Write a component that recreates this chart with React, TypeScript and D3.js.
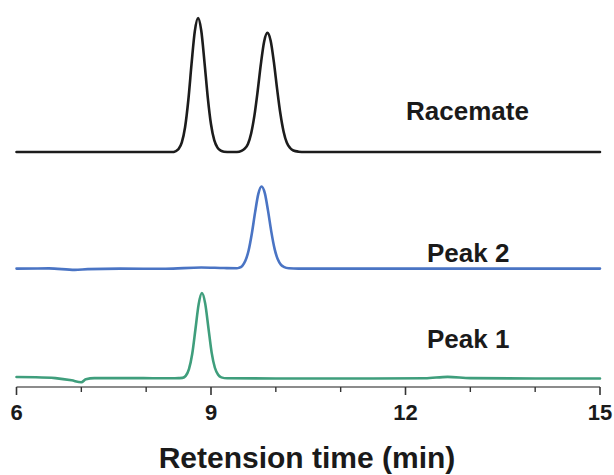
import React from "react";
import * as d3 from "d3";

// Retention time ticks (min)
const majorTicks = [6, 9, 12, 15];
const minorTicks = [7, 8, 10, 11, 13, 14];

// Trace names and vertical offsets (signal units, stacked)
const traceNames = ["Racemate", "Peak 2", "Peak 1"];
const traceOffsets = [63.5, 32.0, 2.3];
const traceColors = ["#1c1c1c", "#4a74c4", "#3f9e7c"];

// Racemate chromatogram [time, signal]
const racemate: [number, number][] = [
  [6.0, 0], [8.4, 0], [8.45, 0.2], [8.5, 0.8], [8.55, 2.6], [8.6, 6.7], [8.65, 14.0],
  [8.7, 23.8], [8.75, 32.6], [8.8, 36.2], [8.85, 32.8], [8.9, 24.2], [8.95, 14.8],
  [9.0, 7.5], [9.05, 3.2], [9.1, 1.2], [9.15, 0.4], [9.2, 0.1], [9.3, 0],
  [9.4, 0], [9.47, 0.3], [9.52, 0.9], [9.57, 2.2], [9.62, 5.1], [9.67, 9.9],
  [9.72, 16.5], [9.77, 23.9], [9.82, 29.9], [9.87, 32.2], [9.92, 30.1], [9.97, 24.3],
  [10.02, 17.0], [10.07, 10.4], [10.12, 5.5], [10.17, 2.5], [10.22, 1.1], [10.27, 0.4],
  [10.35, 0.1], [10.45, 0], [15.0, 0],
];

// Peak 2 chromatogram
const peak2: [number, number][] = [
  [6.0, 0], [6.5, 0.05], [6.9, -0.35], [7.1, -0.15], [7.6, 0], [8.3, -0.05],
  [8.85, 0.3], [9.2, 0.15], [9.4, 0.1], [9.43, 0.2], [9.48, 0.7], [9.53, 2.1],
  [9.58, 4.9], [9.63, 9.5], [9.68, 15.2], [9.73, 20.2], [9.78, 22.2], [9.83, 20.4],
  [9.88, 15.6], [9.93, 10.0], [9.98, 5.4], [10.03, 2.5], [10.08, 1.0], [10.13, 0.4],
  [10.2, 0.1], [10.35, 0], [15.0, 0],
];

// Peak 1 chromatogram
const peak1: [number, number][] = [
  [6.0, 0.4], [6.3, 0.35], [6.6, 0.1], [6.85, -0.5], [7.0, -1.0], [7.07, -0.2],
  [7.2, 0.1], [7.8, 0.1], [8.4, 0.05], [8.5, 0.1], [8.56, 0.16], [8.61, 0.7],
  [8.66, 2.5], [8.71, 6.6], [8.76, 13.3], [8.81, 20.1], [8.86, 23.1], [8.91, 20.3],
  [8.96, 13.7], [9.01, 7.0], [9.06, 2.9], [9.11, 1.0], [9.16, 0.3], [9.25, 0.05],
  [10.0, 0], [11.5, 0], [12.3, 0.05], [12.65, 0.45], [13.0, 0.1], [14.0, 0], [15.0, 0],
];

const traces = [racemate, peak2, peak1];

const W = 614;
const H = 475;
const FONT = "'Liberation Sans', Arial, Helvetica, sans-serif";

export default function App() {
  const x = d3.scaleLinear().domain([6, 15]).range([16.5, 600]);
  const y = d3.scaleLinear().domain([0, 100]).range([387, 17]);
  const axisY = y(0);

  const labelPos = [
    { x: 406, y: 120 },
    { x: 427, y: 262 },
    { x: 427, y: 348 },
  ];

  return (
    <svg
      width={W}
      height={H}
      style={{ position: "absolute", left: 0, top: 0, background: "#fff" }}
      fontFamily={FONT}
    >
      {traces.map((tr, i) => {
        const line = d3
          .line<[number, number]>()
          .x((d) => x(d[0]))
          .y((d) => y(d[1] + traceOffsets[i]))
          .curve(d3.curveMonotoneX);
        return (
          <path
            key={i}
            d={line(tr) || ""}
            fill="none"
            stroke={traceColors[i]}
            strokeWidth={2.6}
            strokeLinejoin="round"
            strokeLinecap="round"
          />
        );
      })}

      {traceNames.map((n, i) => (
        <text
          key={n}
          x={labelPos[i].x}
          y={labelPos[i].y}
          fontSize={26}
          fontWeight="bold"
          fill="#1a1a1a"
        >
          {n}
        </text>
      ))}

      {/* x axis */}
      <line x1={x(6)} x2={x(15)} y1={axisY} y2={axisY} stroke="#666" strokeWidth={1.5} />
      {majorTicks.map((t) => (
        <g key={t}>
          <line x1={x(t)} x2={x(t)} y1={axisY} y2={axisY + 8} stroke="#333" strokeWidth={1.6} />
          <text
            x={x(t)}
            y={420}
            textAnchor="middle"
            fontSize={22}
            fontWeight="bold"
            fill="#1a1a1a"
          >
            {t}
          </text>
        </g>
      ))}
      {minorTicks.map((t) => (
        <line key={t} x1={x(t)} x2={x(t)} y1={axisY} y2={axisY + 5} stroke="#333" strokeWidth={1.4} />
      ))}

      <text
        x={307}
        y={468}
        textAnchor="middle"
        fontSize={30}
        fontWeight="bold"
        fill="#1a1a1a"
      >
        Retension time (min)
      </text>
    </svg>
  );
}
